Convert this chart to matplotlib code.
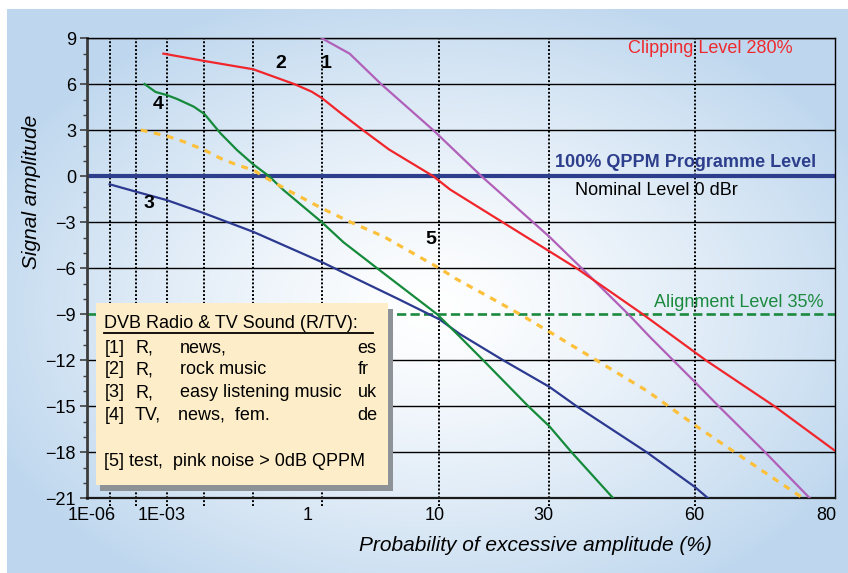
import numpy as np
import matplotlib
matplotlib.use("Agg")
import matplotlib.pyplot as plt
from matplotlib.patches import Rectangle
from matplotlib.lines import Line2D
from matplotlib.ticker import MultipleLocator, NullLocator
from matplotlib.transforms import ScaledTranslation

plt.rcParams['font.family'] = ['Liberation Sans', 'DejaVu Sans']

# probability of excessive amplitude (%) vs signal amplitude (dB)
p1 = [1, 2, 3.9, 9.2, 16.6, 30, 37, 47, 51.4, 60, 64.2, 71.4, 77.2]
y1 = [9, 8.0, 6.0, 3.0, 0.0, -3.94, -6.0, -9.0, -10.47, -13.4, -15.0, -18.0, -21.0]

p2 = [0.0008, 0.01, 0.1, 0.45, 0.75, 1, 1.6, 2.7, 4.5, 9.2, 11.5, 35.9, 50, 62, 72.7, 80]
y2 = [8.0, 7.52, 6.98, 6.0, 5.52, 5.1, 4.15, 3.0, 1.75, 0.0, -0.86, -6.0, -9.0, -12.0, -15.0, -17.9]

p3 = [1e-5, 1e-4, 1e-3, 0.01, 0.1, 1, 5.3, 10, 13, 20.6, 30, 35.9, 50.8, 60, 62.4]
y3 = [-0.52, -1.0, -1.55, -2.42, -3.62, -5.6, -8.0, -9.33, -10.29, -12.0, -13.73,
      -15.0, -18.0, -20.25, -21.0]

p4 = [2e-4, 4.6e-4, 1e-3, 2e-3, 5.5e-3, 0.01, 0.023, 0.05, 0.1, 0.186, 0.31, 1,
      1.73, 3.6, 9.7, 13, 16.9, 25.6, 30, 34.8, 43.8]
y4 = [6.02, 5.5, 5.3, 5.04, 4.54, 4.06, 2.8, 1.71, 0.78, 0.0, -0.9, -3.0,
      -4.3, -6.0, -9.0, -10.47, -12.0, -15.0, -16.3, -18.0, -21.0]

p5 = [1.5e-4, 1e-3, 3e-3, 0.01, 0.023, 0.05, 0.1, 0.17, 0.39, 1, 2, 4.1, 10, 12.3,
      18.4, 23.9, 30, 40.2, 51.1, 60, 67.1, 76.4]
y5 = [3.02, 2.63, 2.26, 1.71, 1.17, 0.74, 0.41, -0.13, -1.0, -2.09, -2.96, -3.94,
      -6.0, -6.66, -7.96, -9.0, -10.14, -12.0, -14.05, -16.22, -18.07, -21.0]

xticks = [1e-6, 1e-3, 1, 10, 30, 60, 80]
xticklabels = ['1E-06', '1E-03', '1', '10', '30', '60', '80']
xgrid = [1e-5, 1e-4, 1e-3, 0.01, 0.1, 1, 10, 30, 60]
yticks = list(range(-21, 10, 3))

clip_level = 9
programme_level = 0
alignment_level = -9

legend_title = 'DVB Radio & TV Sound (R/TV):'
legend_rows = [('[1]', 'R,', 'news,', 'es'),
               ('[2]', 'R,', 'rock music', 'fr'),
               ('[3]', 'R,', 'easy listening music', 'uk'),
               ('[4]', 'TV,', 'news,  fem.', 'de')]
legend_last = '[5] test,  pink noise > 0dB QPPM'


# weibull-like probability axis
def fwd(p):
    q = np.clip(np.asarray(p, dtype=float) / 100.0, 1e-300, 1 - 1e-12)
    return -np.log(-np.log(q))


def inv(u):
    return 100.0 * np.exp(-np.exp(-np.asarray(u, dtype=float)))


fig = plt.figure(figsize=(8.48, 5.73), dpi=100)

# background gradient
bg = fig.add_axes([7 / 848, 0, 1 - 7 / 848, 1 - 9 / 573], zorder=-10)
h, w = 564, 841
yy, xx = np.mgrid[0:h, 0:w]
r = np.sqrt(((xx - 425) / 480.0) ** 2 + ((yy - 300) / 330.0) ** 2)
t = np.clip(r, 0, 1) ** 1.3
edge = np.array([0.75, 0.845, 0.935])
img = 1 - t[..., None] * (1 - edge)
bg.imshow(img, aspect='auto', interpolation='bilinear')
bg.axis('off')

ax = fig.add_axes([87 / 848, 1 - 498.3 / 573, 748 / 848, 460 / 573])
ax.set_facecolor('none')
ax.set_xscale('function', functions=(fwd, inv))
ax.set_xlim(1e-6, 80)
ax.set_ylim(-21, 9)

for yv in yticks:
    if yv in (programme_level, alignment_level, -21):
        continue
    ax.axhline(yv, color='black', lw=1.0, zorder=1)
for pv in xgrid:
    ax.axvline(pv, ymin=-0.016, ymax=1, color='black', lw=1.4,
               ls=(0, (1, 1)), clip_on=False, zorder=1)

ax.axhline(programme_level, color='#2d3e8c', lw=3.0, zorder=2)
ax.axhline(alignment_level, color='#1b8a3e', lw=1.9, ls=(0, (3.5, 1.6)), zorder=2)

ax.plot(p1, y1, color='#b060b8', lw=1.6, zorder=3)
ax.plot(p2, y2, color='#f0262c', lw=1.6, zorder=3)
ax.plot(p3, y3, color='#2b3990', lw=1.6, zorder=3)
ax.plot(p4, y4, color='#158a3a', lw=1.6, zorder=3)
ax.plot(p5, y5, color='#fcc03a', lw=2.3, ls=(0, (2.1, 2.1)), zorder=3)

ax.set_yticks(yticks)
ax.yaxis.set_minor_locator(MultipleLocator(1))
ax.tick_params(axis='y', which='major', direction='out', length=5, width=1.2,
               color='#404040', labelsize=13, pad=3)
ax.tick_params(axis='y', which='minor', direction='out', length=3, width=1.0,
               color='#404040')
ax.set_xticks(xticks, labels=xticklabels)
ax.xaxis.set_minor_locator(NullLocator())
ax.tick_params(axis='x', length=0, labelsize=13, pad=6)
shifts = [5, -5, -14, -5, -6, 0, -9]
for lab, dx in zip(ax.get_xticklabels(), shifts):
    lab.set_transform(lab.get_transform() + ScaledTranslation(dx / 100, 0, fig.dpi_scale_trans))

ax.spines['left'].set_linewidth(2.0)
ax.spines['left'].set_color('#3c3c3c')
ax.spines['bottom'].set_linewidth(1.6)
ax.spines['bottom'].set_color('#1a1a1a')
ax.spines['right'].set_linewidth(1.0)
ax.spines['top'].set_linewidth(1.0)

ax.set_xlabel('Probability of excessive amplitude (%)', style='italic', fontsize=15)
ax.xaxis.set_label_coords(0.599, -0.082)
ax.set_ylabel('Signal amplitude', style='italic', fontsize=15)
ax.yaxis.set_label_coords(-0.062, 0.666)

tr = ax.transAxes
ax.text(0.833, 0.977, 'Clipping Level 280%', color='#ee2a2e', fontsize=13,
        ha='center', va='center', transform=tr, zorder=4)
ax.text(0.800, 0.730, '100% QPPM Programme Level', color='#2d3e8c', fontsize=13,
        fontweight='bold', ha='center', va='center', transform=tr, zorder=4)
ax.text(0.761, 0.669, 'Nominal Level 0 dBr', color='black', fontsize=13,
        ha='center', va='center', transform=tr, zorder=4)
ax.text(0.871, 0.425, 'Alignment Level 35%', color='#1b8a3e', fontsize=13,
        ha='center', va='center', transform=tr, zorder=4)

for lab, (xa, ya) in zip(['1', '2', '3', '4', '5'],
                         [(0.320, 0.946), (0.259, 0.946), (0.083, 0.640),
                          (0.095, 0.857), (0.459, 0.563)]):
    ax.text(xa, ya, lab, fontsize=14, fontweight='bold', ha='center', va='center',
            transform=tr, zorder=4)

# legend box with shadow
bx, by, bw, bh = 0.0116, 0.0289, 0.3912, 0.395
ax.add_patch(Rectangle((bx + 0.006, by - 0.013), bw, bh, transform=tr,
                       facecolor='#8d9297', edgecolor='none', zorder=5))
ax.add_patch(Rectangle((bx, by), bw, bh, transform=tr,
                       facecolor='#fdedc8', edgecolor='none', zorder=6))
ax.text(0.0231, 0.379, legend_title, fontsize=13, ha='left', va='center',
        transform=tr, zorder=7)
ax.add_line(Line2D([0.0227, 0.3824], [0.3587, 0.3587], color='black', lw=1.3,
                   transform=tr, zorder=7))
row_y = [0.326, 0.279, 0.2296, 0.181]
col_x = [0.0231, 0.0642, 0.1243, 0.3616]
for yr, row in zip(row_y, legend_rows):
    for i, (xc, s) in enumerate(zip(col_x, row)):
        if i == 2 and row[1] == 'TV,':
            xc = 0.1213
        ax.text(xc, yr, s, fontsize=13, ha='left', va='center', transform=tr, zorder=7)
ax.text(0.0231, 0.0796, legend_last, fontsize=13, ha='left', va='center',
        transform=tr, zorder=7)

fig.savefig('out.png', dpi=100)
